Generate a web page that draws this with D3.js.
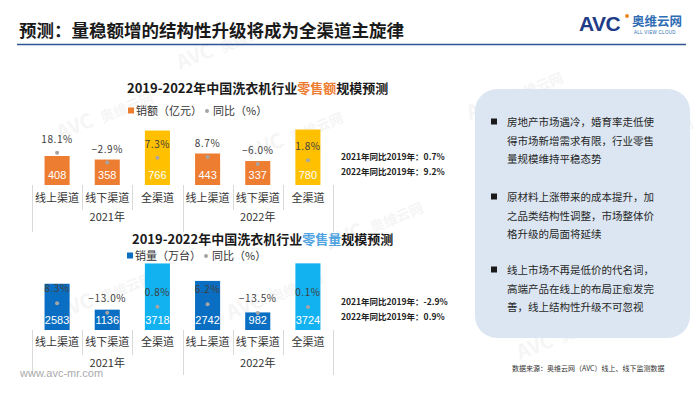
<!DOCTYPE html>
<html>
<head>
<meta charset="utf-8">
<script src="https://cdn.jsdelivr.net/npm/d3@7/dist/d3.min.js"></script>
<style>
  html, body { margin: 0; padding: 0; background: #fff; }
  svg { display: block; font-family: "Noto Sans CJK SC", "Noto Sans", sans-serif; }
</style>
</head>
<body>
<svg id="chart" width="700" height="394"></svg>
<script>
// ---------- data ----------
const categories = ["线上渠道", "线下渠道", "全渠道", "线上渠道", "线下渠道", "全渠道"];
const years = ["2021年", "2022年"];
const salesValue = [408, 358, 766, 443, 337, 780];          // 销额（亿元）
const salesValueYoY = [18.1, -2.9, 7.3, 8.7, -6.0, 1.8];    // 同比（%）
const salesVolume = [2583, 1136, 3718, 2742, 982, 3724];    // 销量（万台）
const salesVolumeYoY = [8.3, -13.0, 0.8, 6.2, -13.5, 0.1];  // 同比（%）
const valueNotes = ["2021年同比2019年：0.7%", "2022年同比2019年：9.2%"];
const volumeNotes = ["2021年同比2019年：-2.9%", "2022年同比2019年：0.9%"];
const bullets = [
  ["房地产市场遇冷，婚育率走低使", "得市场新增需求有限，行业零售", "量规模维持平稳态势"],
  ["原材料上涨带来的成本提升，加", "之品类结构性调整，市场整体价", "格升级的局面将延续"],
  ["线上市场不再是低价的代名词，", "高端产品在线上的布局正愈发完", "善，线上结构性升级不可忽视"]
];

const svg = d3.select("#chart");

// ---------- faint watermarks (kept inside the frame) ----------
const wm = [[60,140],[250,160],[600,165],[520,360],[60,320],[230,320],[330,250],[560,280],[180,70],[470,120]];
wm.forEach(([x, y]) => {
  const g = svg.append("g").attr("transform", `translate(${x},${y}) rotate(-22)`).attr("opacity", 0.045);
  g.append("text").attr("font-size", 20).attr("font-weight", 700).attr("fill", "#333").text("AVC");
  g.append("text").attr("x", 46).attr("font-size", 14).attr("font-weight", 700).attr("fill", "#333").text("奥维云网");
});

// ---------- header ----------
svg.append("text").attr("x", 19).attr("y", 36.5)
  .attr("font-size", 17.5).attr("font-weight", 600).attr("fill", "#1a1a1a")
  .text("预测：量稳额增的结构性升级将成为全渠道主旋律");
svg.append("line").attr("x1", 17).attr("x2", 686).attr("y1", 44.5).attr("y2", 44.5)
  .attr("stroke", "#2F5597").attr("stroke-width", 1.6);

// logo
svg.append("text").attr("x", 579).attr("y", 31).attr("font-family", "Liberation Sans, Arial")
  .attr("font-size", 21).attr("font-weight", 700).attr("fill", "#1F3C88")
  .attr("letter-spacing", -0.5).text("AVC");
svg.append("circle").attr("cx", 627).attr("cy", 16).attr("r", 2).attr("fill", "#F08A24");
svg.append("text").attr("x", 632).attr("y", 26).attr("font-size", 12.5).attr("font-weight", 700)
  .attr("fill", "#2E6DB4").text("奥维云网");
svg.append("text").attr("x", 634).attr("y", 34).attr("font-family", "Liberation Sans, Arial")
  .attr("font-size", 4.5).attr("fill", "#2E6DB4").attr("letter-spacing", 0.3).text("ALL VIEW CLOUD");

// ---------- chart builder ----------
const x = d3.scaleBand().domain(d3.range(categories.length)).range([32, 333]).paddingInner(0.5).paddingOuter(0.25);

function drawChart(opt) {
  const g = svg.append("g");
  const base = opt.base;
  const y = d3.scaleLinear().domain(opt.yDomain).range([base, opt.yTop]);
  const p = d3.scaleLinear().domain(opt.pDomain).range(opt.pRange);

  // title
  const t = g.append("text").attr("x", opt.titleX).attr("y", opt.titleY)
    .attr("font-size", 13).attr("font-weight", 700).attr("fill", "#1a1a1a");
  t.append("tspan").text("2019-2022年中国洗衣机行业");
  t.append("tspan").attr("fill", opt.hlColor).text(opt.hl);
  t.append("tspan").text("规模预测");

  // legend
  g.append("rect").attr("x", opt.legX).attr("y", opt.legY - 3.5).attr("width", 6).attr("height", 6).attr("fill", opt.legColor);
  g.append("text").attr("x", opt.legX + 8).attr("y", opt.legY + 4).attr("font-size", 11).attr("fill", "#333").text(opt.legText);
  g.append("circle").attr("cx", opt.legX + 79).attr("cy", opt.legY).attr("r", 2).attr("fill", "#A5A5A5");
  g.append("text").attr("x", opt.legX + 85).attr("y", opt.legY + 4).attr("font-size", 11).attr("fill", "#333").text("同比（%）");

  // bars
  g.selectAll("rect.bar").data(opt.values).join("rect").attr("class", "bar")
    .attr("x", (d, i) => x(i)).attr("width", x.bandwidth())
    .attr("y", d => y(d)).attr("height", d => base - y(d))
    .attr("fill", (d, i) => categories[i] === "全渠道" ? opt.allColor : opt.barColor);

  // value labels
  g.selectAll("text.val").data(opt.values).join("text").attr("class", "val")
    .attr("x", (d, i) => x(i) + x.bandwidth() / 2).attr("y", base - 6)
    .attr("text-anchor", "middle").attr("font-size", 11).attr("fill", "#fff")
    .attr("font-family", "Liberation Sans, Arial").text(d => d);

  // yoy dots
  g.selectAll("circle.dot").data(opt.yoy).join("circle").attr("class", "dot")
    .attr("cx", (d, i) => x(i) + x.bandwidth() / 2).attr("cy", d => p(d))
    .attr("r", 2).attr("fill", "#A5A5A5");
  g.selectAll("text.pct").data(opt.yoy).join("text").attr("class", "pct")
    .attr("x", (d, i) => x(i) + x.bandwidth() / 2).attr("y", d => p(d) - opt.pctOff)
    .attr("text-anchor", "middle").attr("font-size", 10).attr("fill", "#404040")
    .attr("letter-spacing", 0.6).text(d => (d < 0 ? "−" : "") + Math.abs(d).toFixed(1) + "%");

  // category axis
  const step = x.step();
  const x0 = x.range()[0];
  d3.range(categories.length + 1).forEach(i => {
    const xx = Math.round(x0 + i * step) + 0.5;
    g.append("line").attr("x1", xx).attr("x2", xx).attr("y1", base)
      .attr("y2", i % 3 === 0 ? base + opt.longLine : base + 25)
      .attr("stroke", "#D9D9D9").attr("stroke-width", 1);
  });
  g.selectAll("text.cat").data(categories).join("text").attr("class", "cat")
    .attr("x", (d, i) => x(i) + x.bandwidth() / 2).attr("y", opt.catY)
    .attr("text-anchor", "middle").attr("font-size", 11).attr("fill", "#333").text(d => d);
  g.selectAll("text.yr").data(years).join("text").attr("class", "yr")
    .attr("x", (d, i) => x0 + (i * 3 + 1.5) * step).attr("y", opt.yrY)
    .attr("text-anchor", "middle").attr("font-size", 11).attr("fill", "#333").text(d => d);

  // notes
  opt.notes.forEach((n, i) => {
    g.append("text").attr("x", 341).attr("y", opt.noteY + i * 14.5)
      .attr("font-size", 8.5).attr("font-weight", 700).attr("fill", "#222").text(n);
  });
}

drawChart({
  base: 185, yDomain: [0, 1000], yTop: 113.9,
  pDomain: [-20, 40], pRange: [170.6, 142.4], pctOff: 10,
  values: salesValue, yoy: salesValueYoY,
  barColor: "#ED7D31", allColor: "#FFC000",
  titleX: 127, titleY: 93, hl: "零售额", hlColor: "#ED7D31",
  legX: 128, legY: 111, legColor: "#ED7D31", legText: "销额（亿元）",
  catY: 202, yrY: 221, longLine: 47,
  notes: valueNotes, noteY: 160
});

drawChart({
  base: 330, yDomain: [0, 4000], yTop: 258.4,
  pDomain: [-20, 20], pRange: [315.8, 298.2], pctOff: 11,
  values: salesVolume, yoy: salesVolumeYoY,
  barColor: "#0A6FC2", allColor: "#12B2F0",
  titleX: 132, titleY: 244, hl: "零售量", hlColor: "#4FA3E0",
  legX: 127, legY: 256, legColor: "#0A6FC2", legText: "销量（万台）",
  catY: 346, yrY: 367, longLine: 45,
  notes: volumeNotes, noteY: 305
});

// ---------- right panel ----------
svg.append("rect").attr("x", 475).attr("y", 89).attr("width", 215).attr("height", 249)
  .attr("rx", 22).attr("fill", "#DCE6F2");
const blockY = [122, 197, 270];
bullets.forEach((lines, b) => {
  svg.append("rect").attr("x", 491).attr("y", blockY[b] - 3.5).attr("width", 6).attr("height", 6).attr("fill", "#1a1a1a");
  lines.forEach((ln, i) => {
    svg.append("text").attr("x", 507).attr("y", blockY[b] + 4 + i * 18.5)
      .attr("font-size", 10.5).attr("fill", "#262626").text(ln);
  });
});

svg.append("text").attr("x", 512).attr("y", 371).attr("font-size", 7).attr("fill", "#333")
  .text("数据来源：奥维云网（AVC）线上、线下监测数据");
svg.append("text").attr("x", 20).attr("y", 377).attr("font-family", "Liberation Sans, Arial")
  .attr("font-size", 11).attr("fill", "#AAAAAA").text("www.avc-mr.com");
</script>
</body>
</html>
